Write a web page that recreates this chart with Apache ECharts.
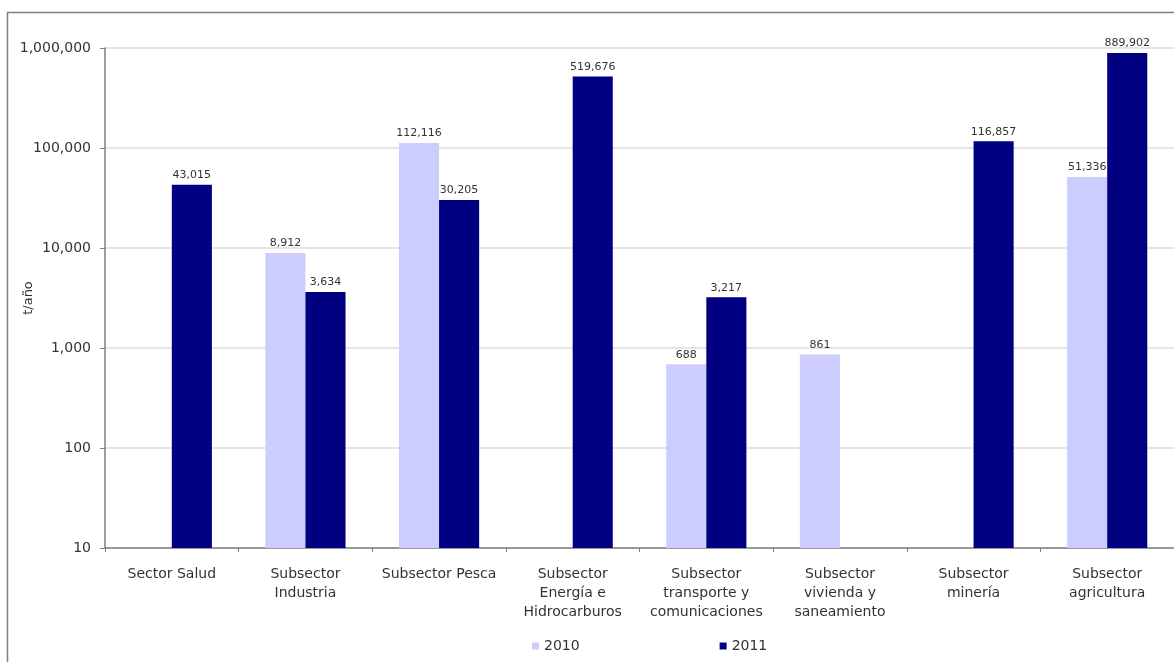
<!DOCTYPE html>
<html>
<head>
<meta charset="utf-8">
<script src="https://cdn.jsdelivr.net/npm/echarts@6/dist/echarts.min.js"></script>
<style>
html,body{margin:0;padding:0;background:#fff;}
#chart{width:1174px;height:662px;}
</style>
</head>
<body>
<div id="chart"></div>
<script>
const categories = [
  "Sector Salud",
  "Subsector\nIndustria",
  "Subsector Pesca",
  "Subsector\nEnergía e\nHidrocarburos",
  "Subsector\ntransporte y\ncomunicaciones",
  "Subsector\nvivienda y\nsaneamiento",
  "Subsector\nminería",
  "Subsector\nagricultura"
];
const values2010 = [null, 8912, 112116, null, 688, 861, null, 51336];
const values2011 = [43015, 3634, 30205, 519676, 3217, null, 116857, 889902];
const seriesNames = ["2010", "2011"];
const yAxisName = "t/año";

const FONT = 'DejaVu Sans, Liberation Sans, Arial, sans-serif';
const chart = echarts.init(document.getElementById('chart'), null, {renderer: 'canvas'});
const fmt = v => Number(v).toLocaleString('en-US');
const labelCfg = {
  show: true, position: 'top', distance: 4,
  fontFamily: FONT, fontSize: 11, color: '#333',
  formatter: p => fmt(p.value)
};
chart.setOption({
  animation: false,
  backgroundColor: '#fff',
  graphic: [{
    type: 'rect', z: -1,
    shape: {x: 7.5, y: 12.5, width: 1300, height: 800},
    style: {fill: 'none', stroke: '#7f7f7f', lineWidth: 1.5}
  }],
  grid: {left: 105, top: 48, width: 1072, bottom: 114},
  legend: {
    left: 527, top: 634,
    itemWidth: 7, itemHeight: 7, itemGap: 140,
    icon: 'rect',
    textStyle: {fontFamily: FONT, fontSize: 14, color: '#333'},
    data: seriesNames
  },
  xAxis: {
    type: 'category',
    data: categories,
    axisLine: {lineStyle: {color: '#808080', width: 1.5}},
    axisTick: {show: true, alignWithLabel: false, length: 4, lineStyle: {color: '#808080'}},
    axisLabel: {
      interval: 0, margin: 17, lineHeight: 19,
      fontFamily: FONT, fontSize: 14, color: '#333'
    }
  },
  yAxis: {
    type: 'log', logBase: 10, min: 10, max: 1000000,
    name: yAxisName, nameLocation: 'middle', nameGap: 70, nameRotate: 90,
    nameMoveOverlap: false,
    nameTextStyle: {fontFamily: FONT, fontSize: 13, color: '#333'},
    axisLine: {show: true, lineStyle: {color: '#808080', width: 1.5}},
    axisTick: {show: true, length: 5, lineStyle: {color: '#808080'}},
    splitLine: {show: true, lineStyle: {color: '#dcdcdc', width: 1.5}},
    minorTick: {show: false},
    axisLabel: {
      margin: 14,
      fontFamily: FONT, fontSize: 14, color: '#333',
      formatter: v => fmt(v)
    }
  },
  series: [
    {name: seriesNames[0], type: 'bar', data: values2010, barGap: '0%', barCategoryGap: '40%',
     itemStyle: {color: '#ccccff'}, label: labelCfg},
    {name: seriesNames[1], type: 'bar', data: values2011, barGap: '0%', barCategoryGap: '40%',
     itemStyle: {color: '#000080'}, label: labelCfg}
  ]
});
</script>
</body>
</html>
